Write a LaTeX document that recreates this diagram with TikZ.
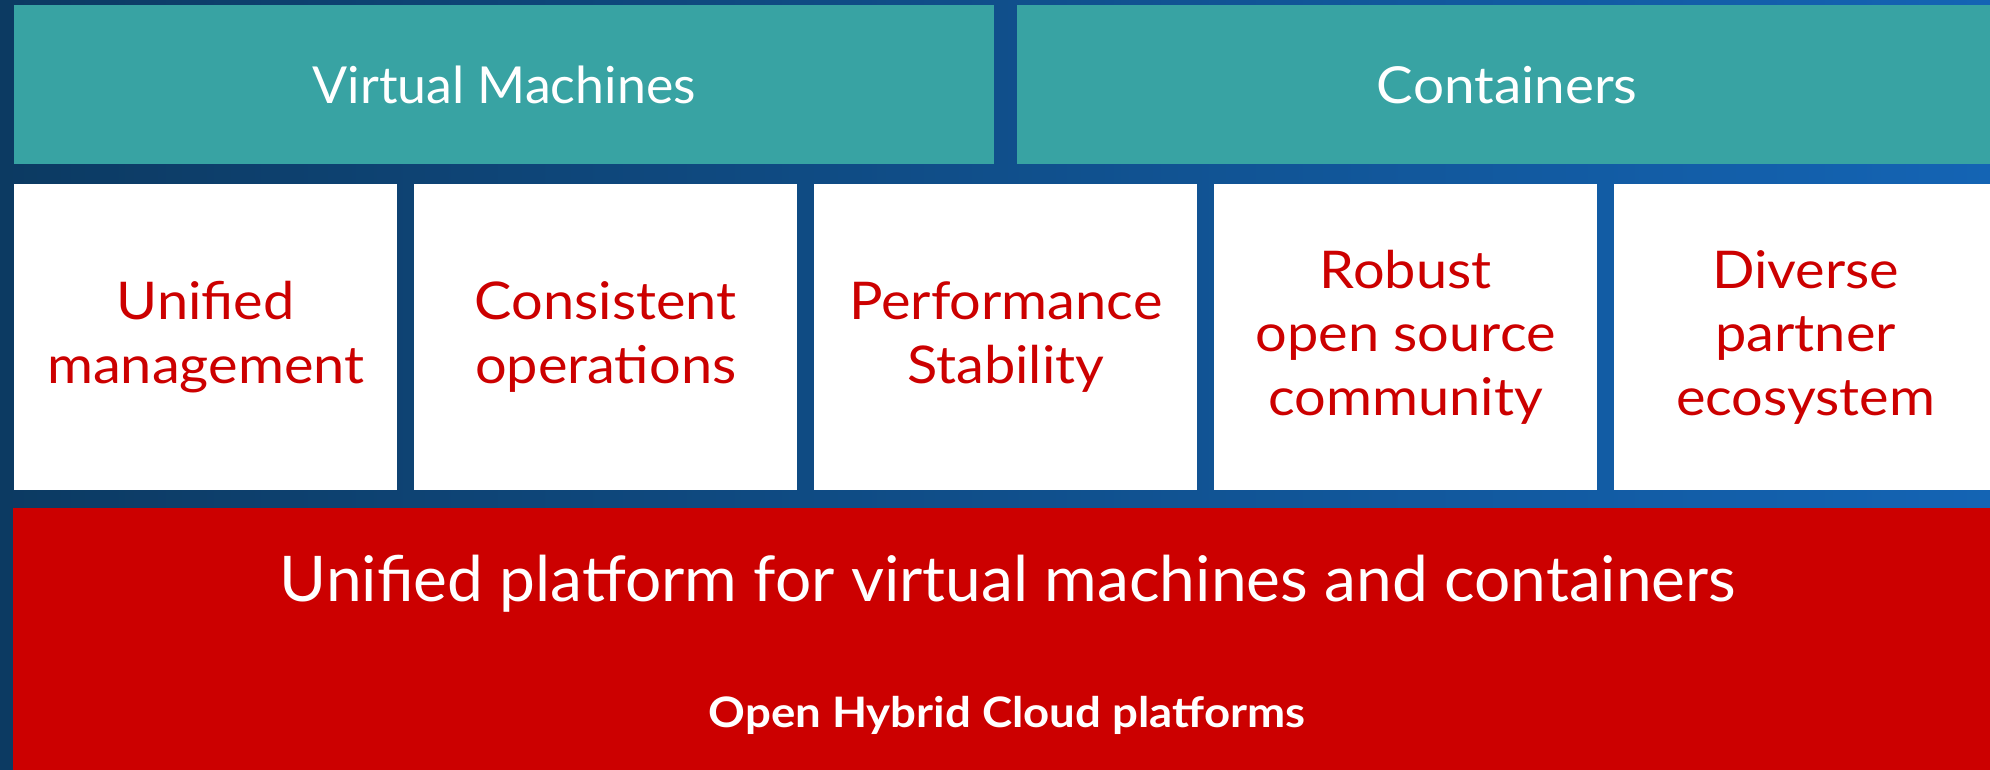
\documentclass[tikz,border=0pt]{standalone}
\usepackage{fontspec}
\setmainfont{Lato}
\newfontfamily\latowide[FakeStretch=1.075]{Lato}
\newfontfamily\latobig[FakeStretch=1.016]{Lato}
\newfontfamily\latobold[FakeStretch=1.085]{Lato Bold}
\definecolor{teal1}{RGB}{56,163,163}
\definecolor{rhred}{RGB}{204,0,0}
\definecolor{bgleft}{RGB}{12,58,98}
\definecolor{bgmid}{RGB}{30,92,152}
\definecolor{bgright}{RGB}{20,100,180}
\begin{document}
\begin{tikzpicture}[x=1pt,y=-1pt,
  header/.style={fill=teal1,text=white,inner sep=0pt,anchor=north west,
    minimum width=980pt,minimum height=159pt,font=\latowide\fontsize{51}{60}\selectfont},
  pillar/.style={fill=white,text=rhred,inner sep=0pt,anchor=north west,align=center,
    minimum width=383pt,minimum height=306pt,font=\latowide\fontsize{52}{63.5}\selectfont},
  base/.style={fill=rhred,inner sep=0pt,anchor=north west,minimum width=1990pt,minimum height=262pt},
  basetext/.style={text=white,inner sep=0pt,anchor=base,font=\latobig\fontsize{63}{70}\selectfont},
  basesub/.style={text=white,inner sep=0pt,anchor=base,font=\latobold\fontsize{42}{50}\selectfont}]
\useasboundingbox (0,0) rectangle (1990,770);
\shade[left color=bgleft,middle color=bgmid,right color=bgright] (0,0) rectangle (1990,770);
\node[header,font=\latobig\fontsize{51}{60}\selectfont] (vm) at (14,5) {Virtual Machines};
\node[header] (ct) at (1017,5) {Containers};
\node[pillar] (p1) at (14,184) {Unified\\management};
\node[pillar] (p2) at (414,184) {Consistent\\operations};
\node[pillar] (p3) at (814,184) {Performance\\Stability};
\node[pillar] (p4) at (1214,184) {Robust\\open source\\community};
\node[pillar] (p5) at (1614,184) {Diverse\\partner\\ecosystem};
\node[base] (plat) at (13,508) {};
\node[basetext] (pt) at (1008,601) {Unified platform for virtual machines and containers};
\node[basesub] (ohc) at (1007,727) {Open Hybrid Cloud platforms};
\end{tikzpicture}
\end{document}
